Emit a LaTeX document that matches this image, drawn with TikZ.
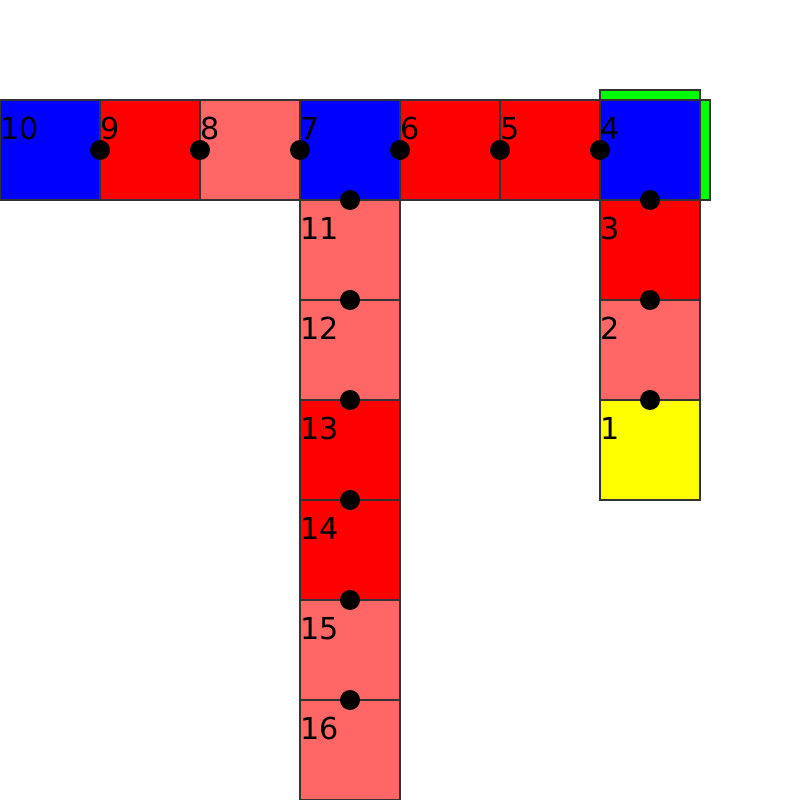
\documentclass[tikz,border=0pt]{standalone}
\usepackage{fontspec}
\setmainfont{DejaVu Sans}
\definecolor{cblue}{RGB}{0,0,255}
\definecolor{cred}{RGB}{255,0,0}
\definecolor{clight}{RGB}{255,102,102}
\definecolor{cyellow}{RGB}{255,255,0}
\definecolor{cgreen}{RGB}{0,255,0}
\begin{document}
\begin{tikzpicture}[x=1cm,y=1cm,
  sq/.style={draw=black!80, line width=0.3pt, minimum size=1cm, inner sep=0pt, outer sep=0pt},
  lab/.style={anchor=base west, inner sep=0pt, font=\fontsize{8.6}{8.6}\selectfont},
  dotn/.style={circle, fill=black, minimum size=0.2cm, inner sep=0pt},
  gbar/.style={draw=black!80, line width=0.3pt, fill=cgreen}]
\useasboundingbox (0,0) rectangle (8,8);
% green bars
\draw[gbar] (6,7) rectangle (7,7.1);
\draw[gbar] (7,6) rectangle (7.1,7);
% squares
\foreach \n/\x/\y/\c in {10/0.5/6.5/cblue, 9/1.5/6.5/cred, 8/2.5/6.5/clight, 7/3.5/6.5/cblue,
  6/4.5/6.5/cred, 5/5.5/6.5/cred, 4/6.5/6.5/cblue,
  11/3.5/5.5/clight, 12/3.5/4.5/clight, 13/3.5/3.5/cred, 14/3.5/2.5/cred, 15/3.5/1.5/clight, 16/3.5/0.5/clight,
  3/6.5/5.5/cred, 2/6.5/4.5/clight, 1/6.5/3.5/cyellow}{
  \node[sq, fill=\c] (s\n) at (\x,\y) {};
}
% labels
\foreach \n in {1,...,16}{
  \node[lab] (l\n) at ([shift={(0.0,-0.40)}]s\n.north west) {\n};
}
% dots
\foreach \a [count=\i] in {s10.east, s9.east, s8.east, s7.east, s6.east, s5.east,
  s7.south, s11.south, s12.south, s13.south, s14.south, s15.south,
  s4.south, s3.south, s2.south}{
  \node[dotn] (d\i) at (\a) {};
}
\end{tikzpicture}
\end{document}
